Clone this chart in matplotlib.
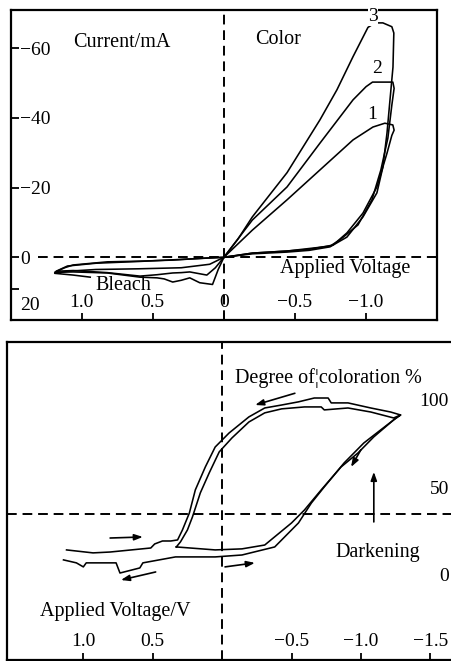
import matplotlib
matplotlib.use('Agg')
import matplotlib.pyplot as plt

plt.rcParams['font.family'] = ['Liberation Serif', 'DejaVu Serif']

# ---------------- top panel: current vs applied voltage ----------------
top_xticks = [1.0, 0.5, 0.0, -0.5, -1.0]
top_xticklabels = ['1.0', '0.5', '0', '\u22120.5', '\u22121.0']
top_yticks = [-60, -40, -20, 0, 9]
top_yticklabels = ['\u221260', '\u221240', '\u221220', '0', '']

# colour scans (forward to -1.2 V and back)
c1_v = [0, -0.2, -0.444, -0.676, -0.908, -1.048, -1.132, -1.188, -1.197, -1.181,
        -1.147, -1.076, -0.978, -0.865, -0.767, -0.6, -0.444, -0.2, 0]
c1_i = [0, -7.8, -16.5, -25.1, -33.7, -37.4, -38.5, -38.0, -36.5, -35.0,
        -29.9, -20.2, -12.7, -7.0, -3.5, -2.3, -1.8, -1.2, 0]
c2_v = [0, -0.2, -0.444, -0.676, -0.908, -1.0, -1.045, -1.188, -1.197, -1.181,
        -1.153, -1.104, -1.041, -0.943, -0.816, -0.746, -0.444, -0.2, 0]
c2_i = [0, -10.7, -20.2, -32.8, -45.2, -49.0, -50.3, -50.3, -48.5, -43.7,
        -34.2, -25.1, -16.5, -9.3, -5.0, -3.2, -1.8, -1.2, 0]
c3_v = [0, -0.1, -0.2, -0.444, -0.676, -0.795, -0.908, -1.013, -1.062, -1.118,
        -1.181, -1.195, -1.189, -1.168, -1.147, -1.118, -1.076, -0.978, -0.865,
        -0.746, -0.6, -0.444, -0.2, 0]
c3_i = [0, -5.3, -11.6, -24.3, -39.5, -48.1, -57.6, -66.0, -67.3, -67.3,
        -66.2, -64.4, -54.6, -45.2, -35.7, -25.9, -18.5, -11.6, -5.8,
        -3.0, -2.0, -1.5, -1.0, 0]

# bleach scans (positive voltage)
b1_v = [0, 0.1, 0.3, 0.6, 0.9, 1.1, 1.19, 1.06, 0.94]
b1_i = [0, 2.0, 3.0, 3.3, 3.5, 4.0, 4.6, 5.1, 5.7]
b2_v = [0, 0.06, 0.12, 0.24, 0.30, 0.36, 0.47, 0.59, 0.82, 1.06, 1.18, 1.1, 0.9, 0.6, 0.3, 0]
b2_i = [0, 3.0, 5.1, 4.2, 4.4, 4.5, 5.0, 5.4, 4.4, 3.8, 4.0, 2.5, 1.7, 1.2, 0.6, 0]
b3_v = [0, 0.04, 0.08, 0.17, 0.24, 0.30, 0.36, 0.42, 0.47, 0.59, 0.82, 1.06, 1.19,
        1.12, 1.06, 0.82, 0.59, 0.36, 0.12, 0]
b3_i = [0, 3.5, 7.8, 7.3, 5.9, 6.6, 7.1, 6.2, 5.9, 5.7, 4.5, 4.2, 4.3,
        3.0, 2.2, 1.3, 1.1, 0.8, 0.2, 0]

curve_labels = ['1', '2', '3']
curve_label_v = [-1.041, -1.077, -1.049]
curve_label_i = [-40.9, -54.3, -69.0]

# ---------------- bottom panel: degree of coloration ----------------
bot_xticks = [1.0, 0.5, -0.5, -1.0, -1.5]
bot_xticklabels = ['1.0', '0.5', '\u22120.5', '\u22121.0', '\u22121.5']
bot_yticks = [100, 50, 0]
bot_yticklabels = ['100', '50', '0']

loopA_v = [1.143, 1.05, 1.0, 0.979, 0.764, 0.736, 0.593, 0.571, 0.336, 0.05, -0.143,
           -0.379, -0.429, -0.55, -0.643, -0.736, -0.879, -1.021, -1.143, -1.264,
           -1.286, -1.214, -1.071, -0.907, -0.786, -0.764, -0.664, -0.55, -0.429,
           -0.307, -0.193, -0.05, 0.05, 0.121, 0.193, 0.236, 0.286, 0.321, 0.37,
           0.43, 0.486, 0.514, 0.807, 0.93, 1.121]
loopA_c = [8.6, 6.9, 4.6, 6.9, 6.9, 1.1, 4.0, 6.9, 10.3, 10.3, 11.4,
           16.0, 20.0, 29.7, 41.1, 50.3, 64.0, 75.4, 82.9, 90.3,
           91.4, 93.1, 95.4, 98.3, 98.3, 101.1, 101.1, 98.9, 97.1,
           95.4, 90.3, 81.1, 73.1, 61.7, 48.6, 35.4, 25.7, 20.0, 19.4,
           19.4, 17.7, 15.4, 13.1, 12.6, 14.3]
loopB_v = [0.33, 0.05, -0.143, -0.307, -0.5, -0.593, -0.714, -0.857, -0.979, -1.093,
           -1.236, -1.286, -1.236, -1.071, -0.907, -0.736, -0.714, -0.593, -0.429,
           -0.307, -0.193, -0.071, 0.021, 0.093, 0.157, 0.214, 0.25, 0.3, 0.33]
loopB_c = [16.0, 14.3, 14.9, 17.1, 29.7, 37.1, 48.6, 61.7, 69.7, 78.9,
           88.6, 91.4, 89.7, 93.1, 95.4, 94.3, 96.0, 96.0, 94.9,
           92.6, 87.4, 78.3, 70.3, 58.3, 46.9, 33.1, 25.7, 18.9, 16.0]

arrow_tail_v = [-0.524, 0.807, 0.479, -0.021, -1.093, -1.00]
arrow_tail_c = [103.8, 21.1, 1.7, 4.6, 30.3, 71.5]
arrow_head_v = [-0.238, 0.571, 0.729, -0.236, -1.093, -0.929]
arrow_head_c = [97.1, 21.7, -2.9, 6.9, 58.9, 61.7]

# ---------------- figure ----------------
W, H = 451, 661
fig = plt.figure(figsize=(W / 100, H / 100), dpi=100)
ax1 = fig.add_axes([10.6 / W, 1 - 320 / H, (437.2 - 10.6) / W, 310 / H])
ax2 = fig.add_axes([7 / W, 1 - 660 / H, (465 - 7) / W, (660 - 342) / H])

LW = 1.15
DASH = (0, (5, 3))
FS = 14.5
TFS = 14

for ax in (ax1, ax2):
    for s in ax.spines.values():
        s.set_linewidth(1.6)

# --- top ---
ax1.set_xlim(1.5, -1.5)
ax1.set_ylim(18, -71)
ax1.axvline(0, color='k', lw=1.4, ls=DASH)
ax1.hlines(0, 1.31, -1.5, color='k', lw=1.4, linestyles=DASH)
for v, i in [(c1_v, c1_i), (c2_v, c2_i), (c3_v, c3_i),
             (b1_v, b1_i), (b2_v, b2_i), (b3_v, b3_i)]:
    ax1.plot(v, i, color='k', lw=LW, solid_joinstyle='round')
for t, v, i in zip(curve_labels, curve_label_v, curve_label_i):
    ax1.text(v, i, t, fontsize=TFS, ha='center', va='center',
             bbox=dict(facecolor='white', edgecolor='none', pad=0.3))

ax1.set_xticks(top_xticks)
ax1.set_xticklabels(top_xticklabels)
ax1.set_yticks(top_yticks)
ax1.set_yticklabels(top_yticklabels)
ax1.tick_params(axis='x', direction='in', length=5, width=1.3, pad=-12.5, labelsize=TFS)
ax1.tick_params(axis='y', direction='in', length=6, width=1.3, pad=-6.8, labelsize=TFS)
for lab in ax1.get_xticklabels():
    lab.set_va('center')
for lab in ax1.get_yticklabels():
    lab.set_ha('left')
ax1.text(1.43, 13.9, '20', fontsize=TFS, ha='left', va='center')
ax1.text(0.717, -61.8, 'Current/mA', fontsize=FS, ha='center', va='center')
ax1.text(-0.38, -62.4, 'Color', fontsize=FS, ha='center', va='center')
ax1.text(-0.851, 3.3, 'Applied Voltage', fontsize=FS, ha='center', va='center')
ax1.text(0.709, 8.0, 'Bleach', fontsize=FS, ha='center', va='center')

# --- bottom ---
ax2.set_xlim(1.55, -1.75)
ax2.set_ylim(-48.6, 133.1)
ax2.axvline(0, color='k', lw=1.4, ls=DASH)
ax2.axhline(35, color='k', lw=1.4, ls=DASH)
for v, c in [(loopA_v, loopA_c), (loopB_v, loopB_c)]:
    ax2.plot(v, c, color='k', lw=LW, solid_joinstyle='round')
for tv, tc, hv, hc in zip(arrow_tail_v, arrow_tail_c, arrow_head_v, arrow_head_c):
    ax2.annotate('', xy=(hv, hc), xytext=(tv, tc),
                 arrowprops=dict(arrowstyle='-|>,head_length=0.5,head_width=0.18',
                                 color='k', lw=1.2, shrinkA=0, shrinkB=0))

ax2.set_xticks(bot_xticks)
ax2.set_xticklabels(bot_xticklabels)
ax2.yaxis.tick_right()
ax2.set_yticks(bot_yticks)
ax2.set_yticklabels(bot_yticklabels)
ax2.tick_params(axis='x', direction='in', length=5, width=1.3, pad=-13, labelsize=TFS)
ax2.tick_params(axis='y', direction='in', length=0, pad=-11.5, labelsize=TFS)
for lab in ax2.get_xticklabels():
    lab.set_va('center')
for lab in ax2.get_yticklabels():
    lab.set_ha('right')
ax2.text(0.771, -21.1, 'Applied Voltage/V', fontsize=FS, ha='center', va='center')
ax2.text(-0.764, 112.6, 'Degree of\u00a6coloration %', fontsize=FS, ha='center', va='center')
ax2.text(-1.121, 13.1, 'Darkening', fontsize=FS, ha='center', va='center')

fig.savefig('out.png', dpi=100)
